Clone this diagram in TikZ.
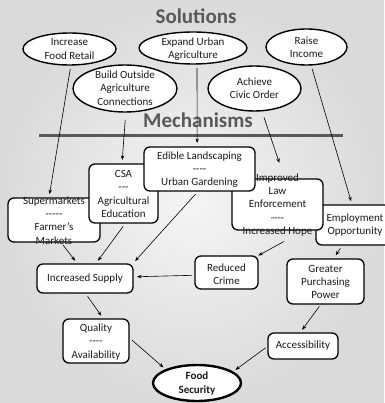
\documentclass[tikz,border=0pt]{standalone}
\usepackage{fontspec}
\setmainfont{Carlito}
\usetikzlibrary{shapes.geometric,arrows.meta}
\definecolor{titlegray}{HTML}{595959}
\definecolor{txt}{HTML}{1A1A1A}
\definecolor{bgin}{HTML}{F5F5F5}
\definecolor{bgout}{HTML}{DADADA}
\begin{document}
\begin{tikzpicture}[x=1pt,y=-1pt,
  box/.style={draw=black,fill=white,rounded corners=6pt,line width=1.3pt,inner sep=0pt,outer sep=0pt},
  oval/.style={draw=black,fill=white,ellipse,line width=1.4pt,inner sep=0pt,outer sep=0pt},
  lbl/.style={align=center,font=\fontsize{11}{13.3}\selectfont,text=txt,inner sep=0pt},
  ttl/.style={font=\fontsize{21}{25}\selectfont\bfseries,text=titlegray,inner sep=0pt,anchor=base},
  arr/.style={-{Stealth[length=4.5pt,width=3.5pt]},line width=0.6pt,shorten <=4pt,shorten >=4pt},
]
\useasboundingbox (0,0) rectangle (384,403);
\shade[inner color=bgin, outer color=bgout] (0,0) rectangle (384,403);

% titles and bar
\node[ttl] (sol) at (196,24) {Solutions};
\node[ttl] (mech) at (198,128) {Mechanisms};
\coordinate (barL) at (39,136);
\coordinate (barR) at (343,136);
\draw[line width=3pt,titlegray] (barL) -- (barR);

% solution ellipses
\node[oval,minimum width=93pt,minimum height=32pt] (ifr) at (69.5,49) {};
\node[lbl] (ifr-t) at (69.5,49) {Increase\\Food Retail};
\node[oval,minimum width=108pt,minimum height=32pt] (eua) at (193,48) {};
\node[lbl] (eua-t) at (193,49) {Expand Urban\\Agriculture};
\node[oval,minimum width=81pt,minimum height=36pt] (ri) at (306.5,47) {};
\node[lbl] (ri-t) at (306.5,47.5) {Raise\\Income};
\node[oval,minimum width=104pt,minimum height=47pt] (bos) at (125,88.5) {};
\node[lbl] (bos-t) at (125,88) {Build Outside\\Agriculture\\Connections};
\node[oval,minimum width=93pt,minimum height=45pt] (ach) at (254.5,88.5) {};
\node[lbl] (ach-t) at (254.5,88.5) {Achieve\\Civic Order};

% mechanism boxes
\node[box,minimum width=92pt,minimum height=44pt] (sm) at (54,220) {};
\node[lbl] (sm-t) at (54,220.5) {Supermarkets\\-{}-{}-{}-{}-\\Farmer’s\\Markets};
\node[box,minimum width=69pt,minimum height=59pt] (csa) at (123.5,193.5) {};
\node[lbl] (csa-t) at (123.5,194) {CSA\\-{}-{}-\\Agricultural\\Education};
\node[box,minimum width=78pt,minimum height=40pt] (emp) at (355,225) {};
\node[lbl] (emp-t) at (355,225) {Employment\\Opportunity};
\node[box,minimum width=91pt,minimum height=51pt] (law) at (277.5,204.5) {};
\node[lbl] (law-t) at (277.5,205) {Improved\\Law\\Enforcement\\-{}-{}-{}-\\Increased Hope};
\node[box,minimum width=111pt,minimum height=44pt] (edi) at (199.5,169) {};
\node[lbl] (edi-t) at (199.5,169.5) {Edible Landscaping\\-{}-{}-{}-\\Urban Gardening};
\node[box,minimum width=63pt,minimum height=33pt] (rc) at (226.5,272.5) {};
\node[lbl] (rc-t) at (226.5,274) {Reduced\\Crime};
\node[box,minimum width=77pt,minimum height=45pt] (gpp) at (325.5,281.5) {};
\node[lbl] (gpp-t) at (325.5,282) {Greater\\Purchasing\\Power};
\node[box,minimum width=96pt,minimum height=29pt] (is) at (85,278.5) {};
\node[lbl] (is-t) at (85,278.5) {Increased Supply};
\node[box,minimum width=66pt,minimum height=44pt] (q) at (96,341) {};
\node[lbl] (q-t) at (96,342) {Quality\\-{}-{}-{}-\\Availability};
\node[box,minimum width=70pt,minimum height=26pt] (acc) at (303,346) {};
\node[lbl] (acc-t) at (303,346) {Accessibility};
\node[oval,line width=2.4pt,minimum width=88pt,minimum height=36pt] (fs) at (197,383) {};
\node[lbl,font=\fontsize{11}{13.3}\selectfont\bfseries] (fs-t) at (197,383.5) {Food\\Security};

% connectors
\draw[arr] (ifr.-85) -- (sm.103);
\draw[arr,shorten <=8pt] (bos.-88) -- (csa.93);
\draw[arr] (eua.-76) -- (edi.96);
\draw[arr,shorten <=7pt,shorten >=17pt] (ach.-72) -- (law.74);
\draw[arr] (ri.-76) -- (emp.98);
\draw[arr] (sm.-73) -- (is.117);
\draw[arr] (csa.-86) -- (is.54);
\draw[arr] (edi.-93) -- (is.17);
\draw[arr,shorten <=24pt,shorten >=1pt] (law.-43.5) -- (rc.28);
\draw[arr,shorten <=4pt,shorten >=4.5pt] (emp.-122) -- (gpp.71);
\draw[arr,shorten <=3pt] (rc.-175) -- (is.2);
\draw[arr] (is.-89) -- (q.71);
\draw[arr] (q.6) -- (fs.157);
\draw[arr,shorten <=3pt] (gpp.-101) -- (acc.104);
\draw[arr,shorten <=3pt] (acc.180) -- (fs.17);
\end{tikzpicture}
\end{document}
